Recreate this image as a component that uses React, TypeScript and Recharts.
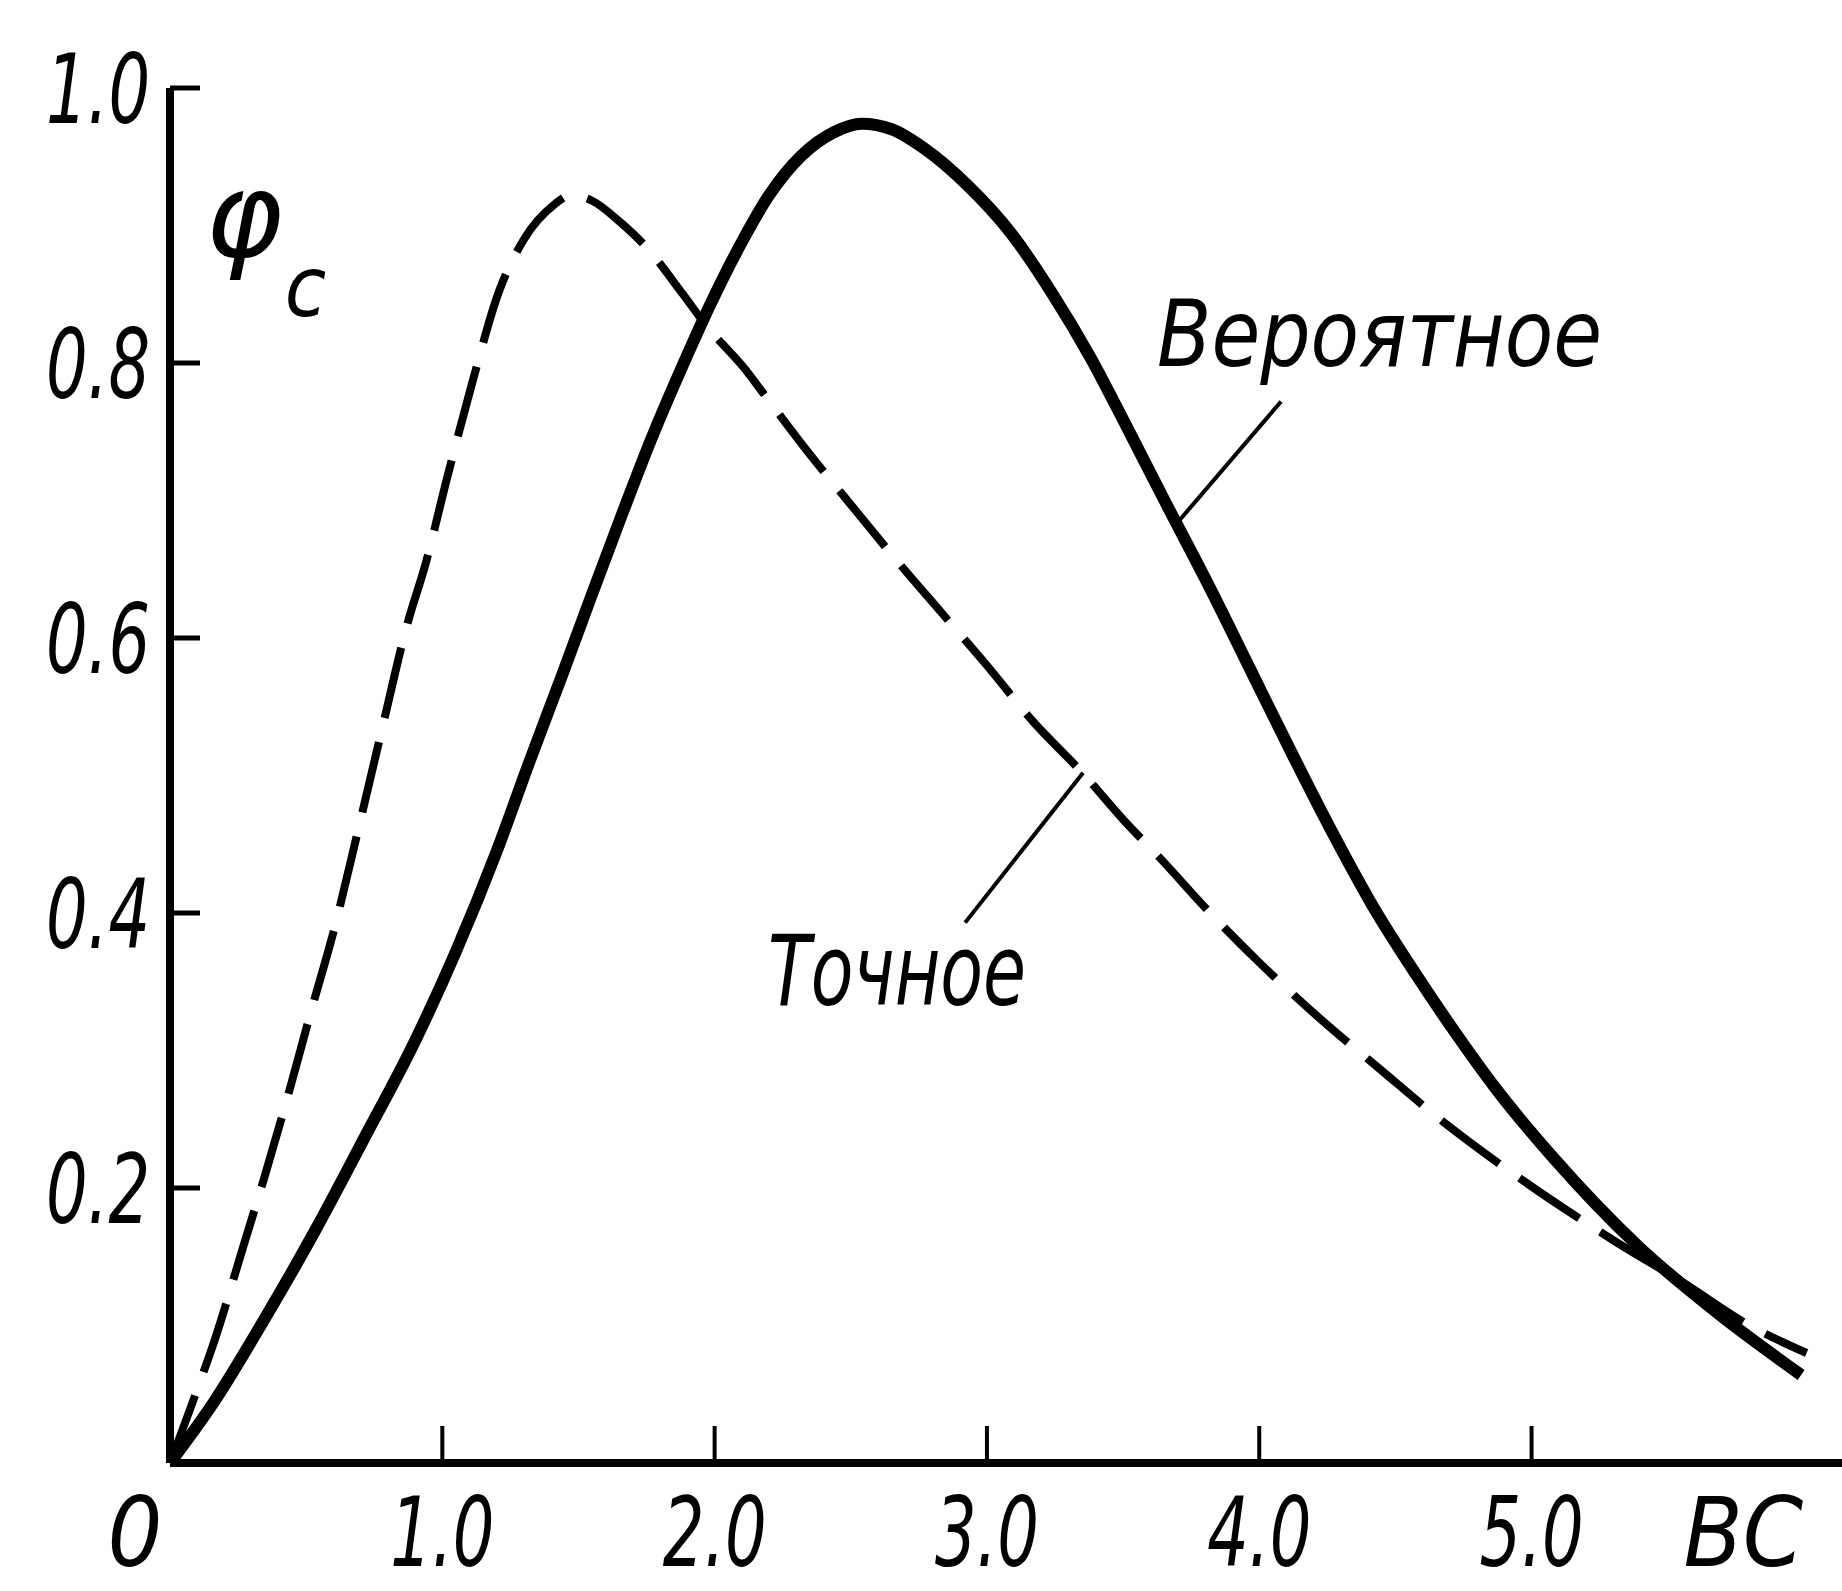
import React from "react";
import { LineChart, Line, XAxis, YAxis, ReferenceLine } from "recharts";

// Curves (BC on x, phi_c on y)
const PROBABLE_X = [0, 0.16, 0.345, 0.53, 0.71, 0.9, 1.05, 1.2, 1.32, 1.44, 1.55, 1.66, 1.77, 1.88, 1.99, 2.1, 2.2, 2.32, 2.44, 2.54, 2.65, 2.77, 2.93, 3.09, 3.235, 3.38, 3.515, 3.66, 3.82, 3.97, 4.12, 4.27, 4.42, 4.58, 4.72, 4.87, 5.08, 5.39, 5.69, 5.99];
const PROBABLE_Y = [0, 0.044, 0.104, 0.168, 0.235, 0.307, 0.372, 0.445, 0.51, 0.573, 0.632, 0.69, 0.746, 0.797, 0.845, 0.888, 0.922, 0.951, 0.968, 0.974, 0.97, 0.956, 0.929, 0.894, 0.852, 0.804, 0.753, 0.697, 0.636, 0.576, 0.516, 0.458, 0.404, 0.354, 0.313, 0.272, 0.222, 0.158, 0.108, 0.064];

const EXACT_X = [0, 0.09, 0.165, 0.27, 0.35, 0.44, 0.52, 0.6, 0.7, 0.78, 0.87, 0.94, 1.017, 1.109, 1.208, 1.3, 1.41, 1.47, 1.55, 1.65, 1.75, 1.88, 1.97, 2.11, 2.19, 2.34, 2.5, 2.67, 2.835, 3.0, 3.166, 3.35, 3.5, 3.64, 3.82, 4.0, 4.23, 4.44, 4.67, 4.95, 5.3, 5.55, 5.81, 6.01];
const EXACT_Y = [0, 0.048, 0.09, 0.158, 0.21, 0.272, 0.33, 0.386, 0.468, 0.535, 0.609, 0.655, 0.716, 0.785, 0.852, 0.89, 0.915, 0.922, 0.918, 0.903, 0.884, 0.851, 0.827, 0.796, 0.775, 0.736, 0.697, 0.656, 0.618, 0.58, 0.54, 0.502, 0.468, 0.439, 0.4, 0.364, 0.322, 0.287, 0.249, 0.208, 0.162, 0.132, 0.099, 0.08];

const X_TICKS = [0, 1, 2, 3, 4, 5];
const X_TICK_LABELS = ["0", "1.0", "2.0", "3.0", "4.0", "5.0"];
const Y_TICKS = [0.2, 0.4, 0.6, 0.8, 1.0];
const Y_TICK_LABELS = ["0.2", "0.4", "0.6", "0.8", "1.0"];

// leader lines of the two captions, in data units
const PROBABLE_LEADER = [{ x: 3.7, y: 0.684 }, { x: 4.08, y: 0.772 }];
const EXACT_LEADER = [{ x: 3.353, y: 0.502 }, { x: 2.92, y: 0.393 }];

const probableData = PROBABLE_X.map((x, i) => ({ x, y: PROBABLE_Y[i] }));
const exactData = EXACT_X.map((x, i) => ({ x, y: EXACT_Y[i] }));

const FONT = "'Liberation Sans Narrow', 'DejaVu Sans Condensed', 'Liberation Sans', sans-serif";
const INK = "#000";

const XTick = (props: any) => {
  const { x, y, payload, index } = props;
  const v = payload.value;
  const label = X_TICK_LABELS[X_TICKS.indexOf(v)] ?? X_TICK_LABELS[index];
  return (
    <g>
      {v > 0 && <line x1={x} y1={y} x2={x} y2={y - 37} stroke={INK} strokeWidth={4} />}
      <text
        x={v === 0 ? x - 35 : x}
        y={y + 103}
        textAnchor="middle"
        fontFamily={FONT}
        fontStyle="italic"
        fontSize={96}
        fill={INK}
        {...(label.length > 1 ? { textLength: 104, lengthAdjust: "spacingAndGlyphs" } : {})}
      >
        {label}
      </text>
    </g>
  );
};

const YTick = (props: any) => {
  const { x, y, payload, index } = props;
  const v = payload.value;
  return (
    <g>
      <line x1={x} y1={y} x2={x + 30} y2={y} stroke={INK} strokeWidth={5} />
      <text
        x={x - 124}
        y={y + 35}
        fontFamily={FONT}
        fontStyle="italic"
        fontSize={96}
        fill={INK}
        textLength={104}
        lengthAdjust="spacingAndGlyphs"
      >
        {Y_TICK_LABELS[Y_TICKS.indexOf(v)] ?? Y_TICK_LABELS[index]}
      </text>
    </g>
  );
};

const renderYLabel = () => (
  <g>
    <text x={205} y={256} fill={INK} fontStyle="italic">
      <tspan fontFamily="'DejaVu Sans', sans-serif" fontSize={118}>φ</tspan>
      <tspan fontFamily={FONT} fontSize={84} dx={2} dy={60}>c</tspan>
    </text>
    <text x={1157} y={366} fontFamily={FONT} fontStyle="italic" fontSize={92} fill={INK} textLength={445} lengthAdjust="spacingAndGlyphs">
      Вероятное
    </text>
    <text x={768} y={1005} fontFamily={FONT} fontStyle="italic" fontSize={98} fill={INK} textLength={258} lengthAdjust="spacingAndGlyphs">
      Точное
    </text>
  </g>
);

const renderXLabel = () => (
  <text x={1803} y={1566} textAnchor="end" fontFamily={FONT} fontStyle="italic" fontSize={96} fill={INK}>
    BC
  </text>
);

export default function App() {
  return (
    <div style={{ position: "absolute", left: 0, top: 0, background: "#fff" }}>
      <LineChart
        width={1842}
        height={1591}
        margin={{ top: 88, right: 0, left: 169, bottom: 127 }}
      >
        <XAxis
          type="number"
          dataKey="x"
          domain={[0, 6.14]}
          ticks={X_TICKS}
          allowDataOverflow
          height={1}
          tickSize={0}
          tickMargin={0}
          tick={<XTick />}
          axisLine={{ stroke: INK, strokeWidth: 8 }}
          label={renderXLabel}
        />
        <YAxis
          type="number"
          dataKey="y"
          domain={[0, 1]}
          ticks={Y_TICKS}
          width={1}
          tickSize={0}
          tickMargin={0}
          tick={<YTick />}
          axisLine={{ stroke: INK, strokeWidth: 8 }}
          label={renderYLabel}
        />
        <ReferenceLine segment={PROBABLE_LEADER} stroke={INK} strokeWidth={4} ifOverflow="visible" />
        <ReferenceLine segment={EXACT_LEADER} stroke={INK} strokeWidth={4} ifOverflow="visible" />
        <Line
          data={exactData}
          dataKey="y"
          type="monotone"
          stroke={INK}
          strokeWidth={8}
          strokeDasharray="72 25"
          dot={false}
          activeDot={false}
          isAnimationActive={false}
        />
        <Line
          data={probableData}
          dataKey="y"
          type="monotone"
          stroke={INK}
          strokeWidth={12}
          dot={false}
          activeDot={false}
          isAnimationActive={false}
        />
      </LineChart>
    </div>
  );
}
